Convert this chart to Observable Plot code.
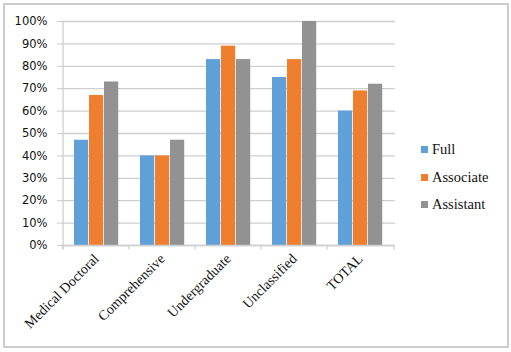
<!DOCTYPE html>
<html>
<head>
<meta charset="utf-8">
<script src="https://cdn.jsdelivr.net/npm/d3@7"></script>
<script src="https://cdn.jsdelivr.net/npm/@observablehq/plot@0.6"></script>
<style>
  html, body { margin: 0; padding: 0; background: #fff; }
  #wrap { position: relative; width: 511px; height: 352px; overflow: hidden; }
  #frame { position: absolute; left: 3px; top: 3px; width: 502px; height: 341px; border: 2px solid #cdcdcd; }
  #chart { position: absolute; left: 0; top: 0; }
  .leg { position: absolute; left: 421px; font-family: "Liberation Serif", "Times New Roman", serif; font-size: 14.5px; color: #111; line-height: 16px; }
  .leg span.sw { display: inline-block; width: 7px; height: 7px; margin-right: 4px; vertical-align: 1px; }
</style>
</head>
<body>
<div id="wrap">
  <div id="frame"></div>
  <div id="chart"></div>
  <div id="legend"></div>
</div>
<script>
const categories = ["Medical Doctoral", "Comprehensive", "Undergraduate", "Unclassified", "TOTAL"];
const series = ["Full", "Associate", "Assistant"];
const full = [47, 40, 83, 75, 60];
const associate = [67, 40, 89, 83, 69];
const assistant = [73, 47, 83, 100, 72];
const yTicks = [0, 10, 20, 30, 40, 50, 60, 70, 80, 90, 100];
const colors = ["#5fa0d9", "#ef7f2f", "#929292"];

const seriesValues = [full, associate, assistant];
const rows = [];
series.forEach((s, i) => categories.forEach((c, j) => rows.push({category: c, series: s, value: seriesValues[i][j]})));

const W = 511, H = 352, ML = 61, MR = 116, MT = 21, MB = 107;
const bw = (W - ML - MR) / categories.length;
const barW = 15, pad = 11;
const gridColor = "#cfcfcf";

const plot = Plot.plot({
  width: W, height: H,
  marginLeft: ML, marginRight: MR, marginTop: MT, marginBottom: MB,
  style: {background: "transparent", overflow: "visible"},
  x: {type: "band", domain: categories, padding: 0, label: null},
  y: {domain: [0, 100], label: null},
  marks: [
    Plot.ruleY(yTicks, {stroke: gridColor, strokeWidth: 1.3}),
    ...series.map((s, i) => Plot.barY(rows.filter(r => r.series === s), {
      x: "category", y: "value", fill: colors[i],
      insetLeft: pad + barW * i, insetRight: bw - pad - barW * (i + 1)
    })),
    Plot.ruleX([categories[0]], {x: d => d, dx: -bw / 2, y1: -2, y2: 100, stroke: gridColor, strokeWidth: 1.3}),
    Plot.ruleX(categories, {x: d => d, dx: -bw / 2, y1: -2, y2: 0, stroke: gridColor, strokeWidth: 1.3}),
    Plot.ruleX([categories[categories.length - 1]], {x: d => d, dx: bw / 2, y1: -2, y2: 0, stroke: gridColor, strokeWidth: 1.3}),
    Plot.ruleY([0], {stroke: gridColor, strokeWidth: 1.3}),
    Plot.axisY(yTicks, {tickSize: 4, tickPadding: 10, tickFormat: d => d + "%", stroke: gridColor, fill: "#111",
      fontFamily: "DejaVu Sans", fontSize: 11.5}),
    Plot.axisX({tickSize: 0, tickRotate: -45, tickPadding: 11, fill: "#111",
      fontFamily: "Liberation Serif", fontSize: 14})
  ]
});
document.getElementById("chart").appendChild(plot);

const legend = document.getElementById("legend");
const legendY = [141, 169, 196];
series.forEach((s, i) => {
  const d = document.createElement("div");
  d.className = "leg";
  d.style.top = legendY[i] + "px";
  d.innerHTML = `<span class="sw" style="background:${colors[i]}"></span>${s}`;
  legend.appendChild(d);
});
</script>
</body>
</html>
